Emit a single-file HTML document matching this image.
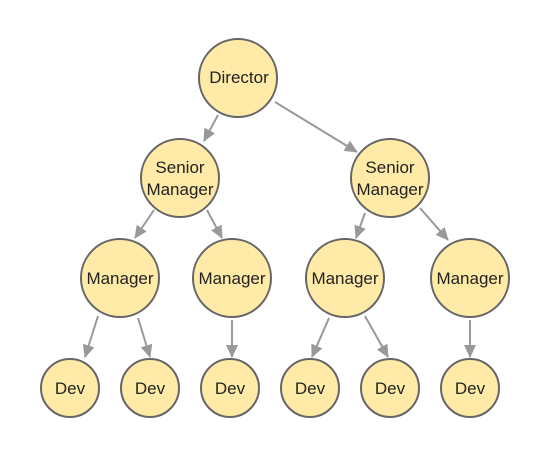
<!DOCTYPE html>
<html><head><meta charset="utf-8"><style>
html,body{margin:0;padding:0;background:#fff;width:550px;height:460px;overflow:hidden}
text{font-family:"Liberation Sans",sans-serif;font-size:17px;fill:#222;text-anchor:middle}
</style></head><body>
<svg width="550" height="460" viewBox="0 0 550 460" xmlns="http://www.w3.org/2000/svg">
<defs><marker id="a" markerWidth="14" markerHeight="14" refX="12" refY="6" orient="auto" markerUnits="userSpaceOnUse"><path d="M0,0 L13,6 L0,12 z" fill="#999"/></marker></defs>
<g stroke="#999" stroke-width="2" fill="none" marker-end="url(#a)">
<line x1="218" y1="115" x2="204" y2="141"/>
<line x1="275" y1="102" x2="357" y2="152"/>
<line x1="154" y1="210" x2="135" y2="238"/>
<line x1="207" y1="210" x2="222" y2="238"/>
<line x1="365" y1="213" x2="356" y2="238"/>
<line x1="420" y1="208" x2="448" y2="240"/>
<line x1="98" y1="316" x2="85" y2="357"/>
<line x1="138" y1="318" x2="150" y2="357"/>
<line x1="232" y1="320" x2="232" y2="357"/>
<line x1="329" y1="318" x2="312" y2="357"/>
<line x1="365" y1="316" x2="388" y2="357"/>
<line x1="470" y1="320" x2="470" y2="357"/>
</g>
<g fill="#ffeaa7" stroke="#666" stroke-width="2">
<circle cx="238" cy="78" r="39"/>
<circle cx="180" cy="178" r="39"/>
<circle cx="390" cy="178" r="39"/>
<circle cx="120" cy="278" r="39"/>
<circle cx="232" cy="278" r="39"/>
<circle cx="345" cy="278" r="39"/>
<circle cx="470" cy="278" r="39"/>
<circle cx="70" cy="388" r="29"/>
<circle cx="150" cy="388" r="29"/>
<circle cx="230" cy="388" r="29"/>
<circle cx="310" cy="388" r="29"/>
<circle cx="390" cy="388" r="29"/>
<circle cx="470" cy="388" r="29"/>
</g>
<text x="239" y="83">Director</text>
<text x="180" y="173">Senior</text><text x="180" y="195">Manager</text>
<text x="390" y="173">Senior</text><text x="390" y="195">Manager</text>
<text x="120" y="284">Manager</text>
<text x="232" y="284">Manager</text>
<text x="345" y="284">Manager</text>
<text x="470" y="284">Manager</text>
<text x="70" y="394">Dev</text>
<text x="150" y="394">Dev</text>
<text x="230" y="394">Dev</text>
<text x="310" y="394">Dev</text>
<text x="390" y="394">Dev</text>
<text x="470" y="394">Dev</text>
</svg>
</body></html>
